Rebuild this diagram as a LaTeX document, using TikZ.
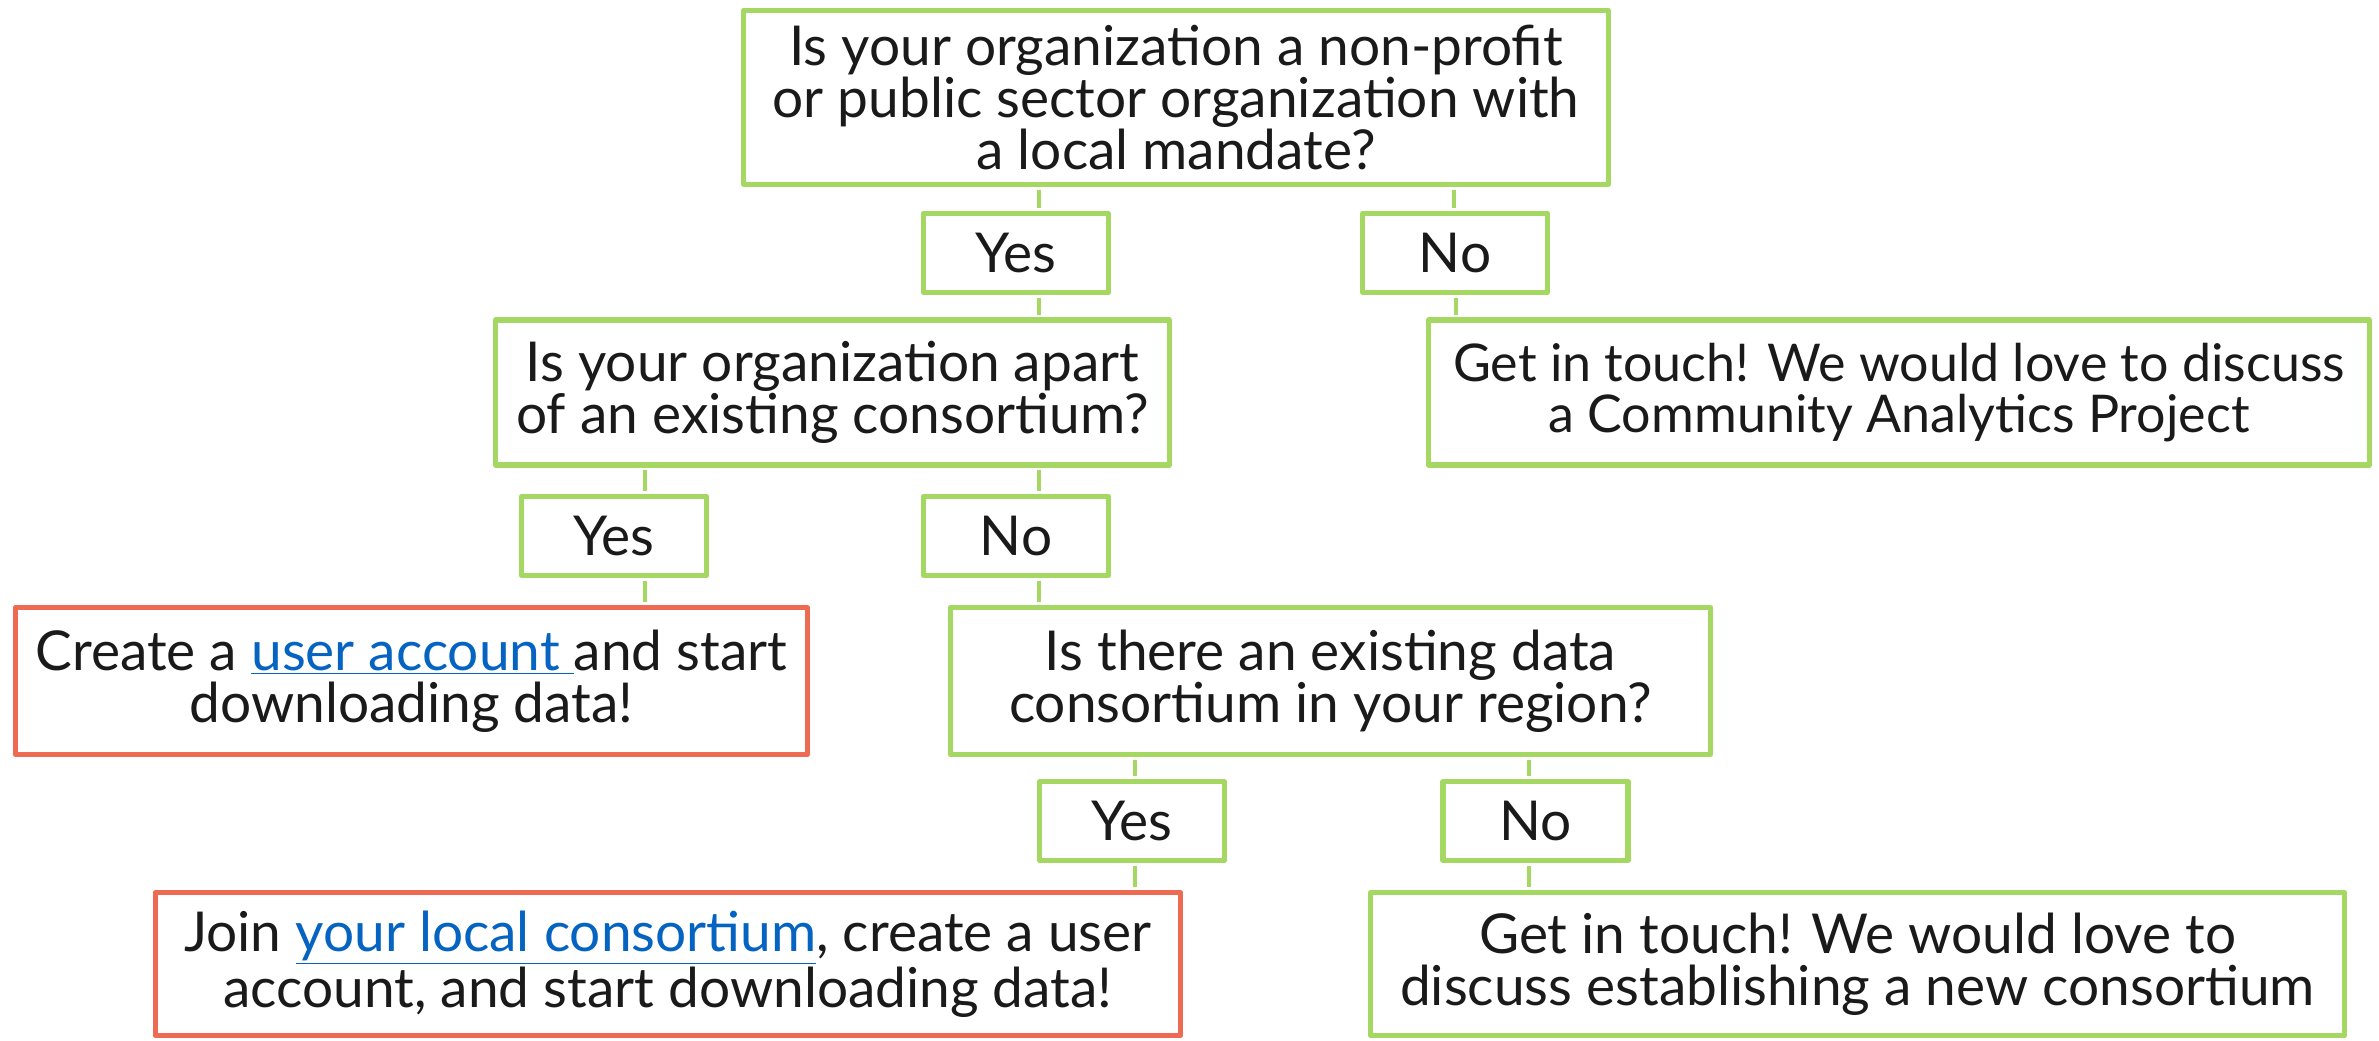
\documentclass[tikz,border=0pt]{standalone}
\usepackage{fontspec}
\setmainfont{Lato}
\usepackage{tikz}

\definecolor{boxgreen}{HTML}{A5D862}
\definecolor{boxred}{HTML}{EE6A52}
\definecolor{linkblue}{HTML}{0563C1}
\definecolor{ink}{HTML}{1A1A1A}

\newcommand{\weblink}[1]{{\color{linkblue}\underline{#1}}}

\tikzset{
	box/.style = {draw = boxgreen, line width = 2.6pt, fill = white, inner sep = 0pt,
		align = center, text = ink, line join = round,
		font = \fontsize{27.5}{25.8}\selectfont},
	goal/.style = {box, draw = boxred},
	answer/.style = {box, minimum width = 92.5pt, minimum height = 39.5pt},
	link/.style = {draw = boxgreen, line width = 2pt, shorten < = 1.3pt, shorten > = 1.3pt},
}

\begin{document}
\begin{tikzpicture}[x = 0.5pt, y = -0.5pt]
		\useasboundingbox (0,0) rectangle (2379,1040);
		% questions and outcomes
		\node[box, minimum width = 432.5pt, minimum height = 87pt] (mandate) at (1176,97.5)
			{Is your organization a non-profit\\or public sector organization with\\a local mandate?};
		\node[answer] (mandateyes) at (1016,253) {Yes};
		\node[answer] (mandateno) at (1455,253) {No};
		\node[box, minimum width = 337pt, minimum height = 72.5pt] (member) at (832.5,392.5)
			{Is your organization apart\\of an existing consortium?};
		\node[box, minimum width = 470.5pt, minimum height = 72.5pt, font = \fontsize{26}{25.8}\selectfont]
			(project) at (1899,392.5)
			{Get in touch! We would love to discuss\\a Community Analytics Project};
		\node[answer] (memberyes) at (614,536) {Yes};
		\node[answer] (memberno) at (1016,536) {No};
		\node[goal, minimum width = 396pt, minimum height = 73.5pt] (account) at (411.5,681)
			{Create a \weblink{user account\ }and start\\downloading data!};
		\node[box, minimum width = 380pt, minimum height = 73.5pt] (region) at (1330.5,681)
			{Is there an existing data\\consortium in your region?};
		\node[answer] (regionyes) at (1132,821) {Yes};
		\node[answer] (regionno) at (1535.5,821) {No};
		\node[goal, minimum width = 512.5pt, minimum height = 71.5pt] (join) at (668,964)
			{Join \weblink{your local consortium}, create a user\\account, and start downloading data!};
		\node[box, minimum width = 487pt, minimum height = 71.5pt] (newone) at (1857.5,964)
			{Get in touch! We would love to\\discuss establishing a new consortium};
		% connectors
		\draw[link] (mandate.south -| 1039,0) -- (mandateyes.north -| 1039,0);
		\draw[link] (mandate.south -| 1454,0) -- (mandateno.north -| 1454,0);
		\draw[link] (mandateyes.south -| 1039,0) -- (member.north -| 1039,0);
		\draw[link] (mandateno.south -| 1456,0) -- (project.north -| 1456,0);
		\draw[link] (member.south -| 645,0) -- (memberyes.north -| 645,0);
		\draw[link] (member.south -| 1039,0) -- (memberno.north -| 1039,0);
		\draw[link] (memberyes.south -| 645,0) -- (account.north -| 645,0);
		\draw[link] (memberno.south -| 1039,0) -- (region.north -| 1039,0);
		\draw[link] (region.south -| 1135,0) -- (regionyes.north -| 1135,0);
		\draw[link] (region.south -| 1529,0) -- (regionno.north -| 1529,0);
		\draw[link] (regionyes.south -| 1135,0) -- (join.north -| 1135,0);
		\draw[link] (regionno.south -| 1529,0) -- (newone.north -| 1529,0);
	\end{tikzpicture}
\end{document}
